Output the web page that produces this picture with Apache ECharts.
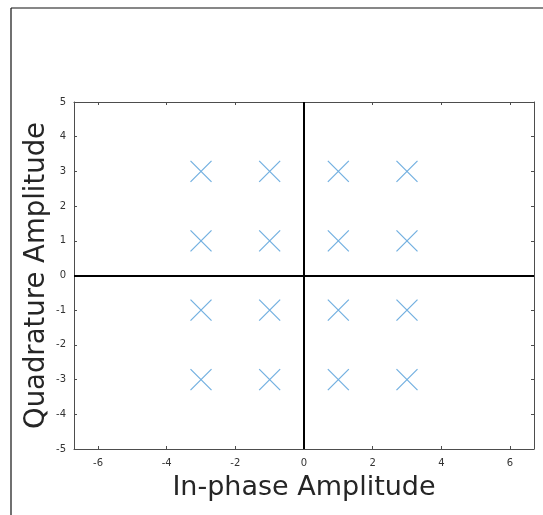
<!DOCTYPE html>
<html>
<head>
<meta charset="utf-8">
<script src="https://cdn.jsdelivr.net/npm/echarts@6/dist/echarts.min.js"></script>
<style>
  html, body { margin: 0; padding: 0; background: #fff; }
  #main { width: 543px; height: 515px; }
</style>
</head>
<body>
<div id="main"></div>
<script>
// constellation points (16-QAM)
var inPhase = [-3, -1, 1, 3];
var quadrature = [3, 1, -1, -3];
var xTicks = [-6, -4, -2, 0, 2, 4, 6];
var yTicks = [-5, -4, -3, -2, -1, 0, 1, 2, 3, 4, 5];

var points = [];
quadrature.forEach(function (q) {
    inPhase.forEach(function (i) {
        points.push([i, q]);
    });
});

var chart = echarts.init(document.getElementById('main'));
var axisCol = '#262626';
var tickFont = { fontFamily: 'DejaVu Sans', fontSize: 10, color: '#333' };

var option = {
    animation: false,
    backgroundColor: '#fff',
    graphic: [
        { type: 'line', shape: { x1: 11, y1: 8, x2: 543, y2: 8 }, style: { stroke: '#111', lineWidth: 1.2 } },
        { type: 'line', shape: { x1: 11, y1: 8, x2: 11, y2: 515 }, style: { stroke: '#111', lineWidth: 1.2 } }
    ],
    grid: { left: 74, top: 102, right: 9, bottom: 66 },
    xAxis: [{
        type: 'value', min: -6.7, max: 6.7,
        name: 'In-phase Amplitude', nameLocation: 'middle', nameGap: 25,
        nameTextStyle: { fontFamily: 'DejaVu Sans', fontSize: 27, color: axisCol },
        axisLine: { onZero: false, lineStyle: { color: '#4d4d4d', width: 1 } },
        axisTick: { inside: true, length: 3, customValues: xTicks, lineStyle: { color: '#4d4d4d' } },
        axisLabel: Object.assign({ margin: 9, customValues: xTicks }, tickFont),
        splitLine: { show: false }
    }, {
        type: 'value', min: -6.7, max: 6.7, position: 'top',
        axisLine: { onZero: false, lineStyle: { color: '#4d4d4d', width: 1 } },
        axisTick: { inside: true, length: 3, customValues: xTicks, lineStyle: { color: '#4d4d4d' } },
        axisLabel: { show: false },
        splitLine: { show: false }
    }],
    yAxis: [{
        type: 'value', min: -5, max: 5, interval: 1,
        name: 'Quadrature Amplitude', nameLocation: 'middle', nameGap: 23,
        nameMoveOverlap: false,
        nameTextStyle: { fontFamily: 'DejaVu Sans', fontSize: 27.5, color: axisCol },
        axisLine: { onZero: false, lineStyle: { color: '#4d4d4d', width: 1 } },
        axisTick: { inside: true, length: 3, lineStyle: { color: '#4d4d4d' } },
        axisLabel: Object.assign({ margin: 8 }, tickFont),
        splitLine: { show: false }
    }, {
        type: 'value', min: -5, max: 5, interval: 1, position: 'right',
        axisLine: { onZero: false, lineStyle: { color: '#4d4d4d', width: 1 } },
        axisTick: { inside: true, length: 3, lineStyle: { color: '#4d4d4d' } },
        axisLabel: { show: false },
        splitLine: { show: false }
    }],
    series: [{
        type: 'scatter',
        data: points,
        symbol: 'path://M0,0L10,10M10,0L0,10',
        symbolSize: 21,
        itemStyle: { color: 'none', borderColor: '#4d9bd8', borderWidth: 1.2 },
        markLine: {
            silent: true,
            symbol: 'none',
            label: { show: false },
            lineStyle: { color: '#000', width: 2, type: 'solid' },
            data: [{ xAxis: 0 }, { yAxis: 0 }]
        },
        z: 3
    }]
};

chart.setOption(option);
</script>
</body>
</html>
